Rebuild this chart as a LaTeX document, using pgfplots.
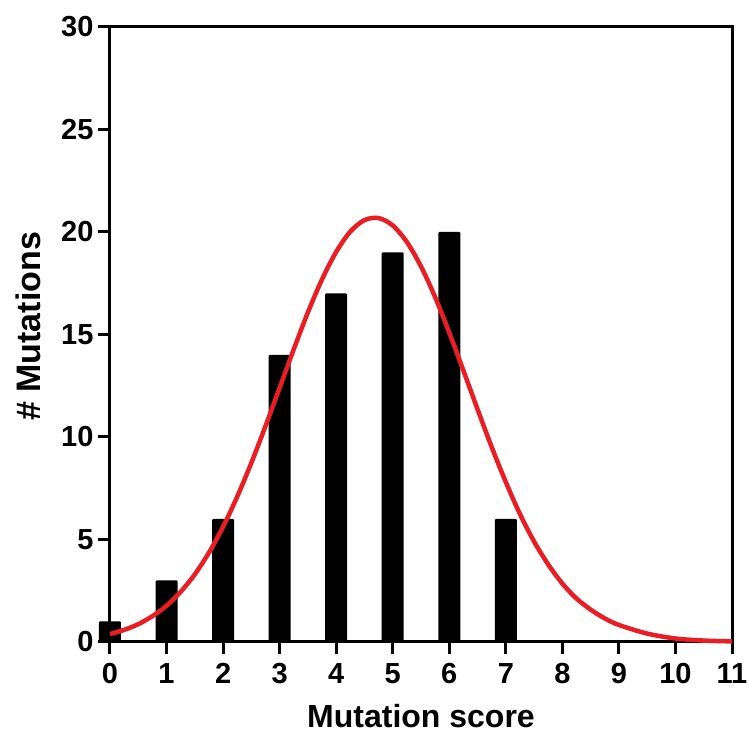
\documentclass[border=0pt]{standalone}
\usepackage{fontspec}
\setmainfont{Liberation Sans}
\usepackage{pgfplots}
\pgfplotsset{compat=1.18}
\definecolor{fitred}{RGB}{232,30,36}

\begin{document}
\begin{tikzpicture}
\begin{axis}[
  scale only axis, width=622pt, height=615pt,
  xmin=0, xmax=11, ymin=0, ymax=30,
  xtick={0,1,...,11}, ytick={0,5,...,30},
  clip=false,
  axis line style={line width=3pt, line cap=rect},
  tick style={line width=3pt, black},
  major tick length=12pt,
  tick align=outside, xtick pos=bottom, ytick pos=left,
  /pgf/number format/assume math mode=true,
  ticklabel style={font=\bfseries\fontsize{29}{29}\selectfont},
  xticklabel style={yshift=-6pt},
  yticklabel style={xshift=-1pt},
  xlabel={Mutation score}, ylabel={\# Mutations},
  every axis x label/.style={at={(axis description cs:0.5,-0.139)}, anchor=base, inner sep=0pt,
    font=\bfseries\fontsize{32}{32}\selectfont},
  every axis y label/.style={at={(axis description cs:-0.131,0.513)}, anchor=center, rotate=90, inner sep=0pt,
    font=\bfseries\fontsize{34}{34}\selectfont},
]
\coordinate (ll) at (rel axis cs:0,0);
\coordinate (ur) at (rel axis cs:1,1);
% observed counts
\addplot[ybar, bar width=22pt, fill=black, draw=none, rounded corners=1pt]
  coordinates {(0,1) (1,3) (2,6) (3,14) (4,17) (5,19) (6,20) (7,6)};
% fitted curve
\addplot[fitred, line width=4.5pt, smooth] coordinates {
  (0,0.39) (0.25,0.59) (0.5,0.87) (0.75,1.26) (1,1.77) (1.25,2.45)
  (1.5,3.30) (1.75,4.36) (2,5.62) (2.25,7.09) (2.5,8.74) (2.75,10.53)
  (3,12.40) (3.25,14.28) (3.5,16.08) (3.75,17.69) (4,19.03) (4.25,20.02)
  (4.5,20.58) (4.75,20.68) (5,20.32) (5.25,19.51) (5.5,18.32)
  (5.75,16.82) (6,15.09) (6.25,13.24) (6.5,11.35) (6.75,9.51) (7,7.80)
  (7.25,6.24) (7.5,4.90) (7.75,3.78) (8,2.85) (8.25,2.12) (8.5,1.58)
  (8.75,1.15) (9,0.83) (9.5,0.41) (10,0.17) (10.5,0.07) (11,0.03)};
\end{axis}
\pgfresetboundingbox
\path[use as bounding box] ([xshift=-110pt,yshift=-92pt]ll) rectangle ([xshift=17pt,yshift=27pt]ur);
\end{tikzpicture}
\end{document}
